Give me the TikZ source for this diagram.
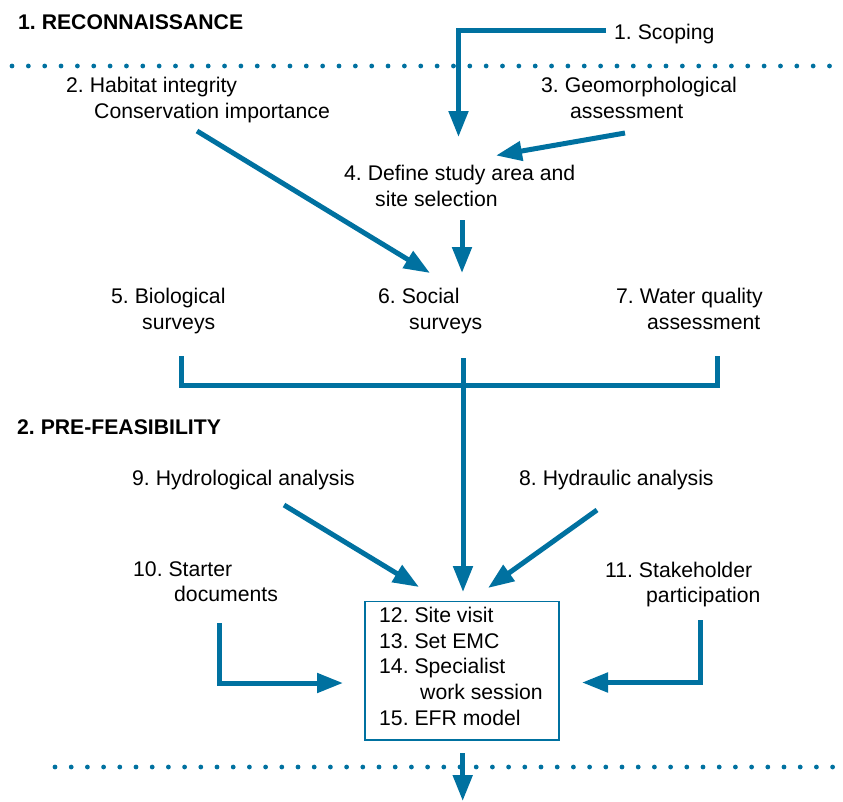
\documentclass[tikz,border=0pt]{standalone}
\usepackage{fontspec}
\setmainfont{Liberation Sans}
\usetikzlibrary{arrows.meta}
\definecolor{flowblue}{RGB}{0,113,160}
\frenchspacing
\tikzset{
  lbl/.style={font=\fontsize{21.2}{25.8}\selectfont, inner sep=0pt, anchor=north west, align=left, text=black},
  hdr/.style={font=\fontsize{21.2}{25.8}\selectfont\bfseries, inner sep=0pt, anchor=north west, text=black},
  conn/.style={draw=flowblue, line width=5pt},
  arr/.style={conn, -{Triangle[length=26pt,width=19pt]}},
  stagebox/.style={draw=flowblue, line width=1.5pt, minimum width=194pt, minimum height=138.3pt, inner sep=0pt},
  dot/.style={fill=flowblue}
}
\begin{document}
\begin{tikzpicture}[x=1pt,y=-1pt]
\useasboundingbox (0,0) rectangle (843,801);

% dotted separators
\foreach \i in {0,...,50} \fill[dot] (12+16.35*\i,66) circle (2.4pt);
\foreach \i in {0,...,48} \fill[dot] (55+16.2*\i,767) circle (2.4pt);

% headers
\node[hdr] (rec) at (18,14.3) {1. RECONNAISSANCE};
\node[hdr] (pre) at (17,419.8) {2. PRE-FEASIBILITY};

% labels
\node[lbl] (scope) at (614,23.8) {1. Scoping};
\node[lbl] (hab) at (66,77.3) {2. Habitat integrity\\\hspace*{28pt}Conservation importance};
\node[lbl] (geo) at (541,77.3) {3. Geomorphological\\\hspace*{29pt}assessment};
\node[lbl] (def) at (344,164.8) {4. Define study area and\\\hspace*{31pt}site selection};
\node[lbl] (bio) at (111,287.8) {5. Biological\\\hspace*{31pt}surveys};
\node[lbl] (soc) at (378,287.8) {6. Social\\\hspace*{31pt}surveys};
\node[lbl] (wq) at (616,287.8) {7. Water quality\\\hspace*{31pt}assessment};
\node[lbl] (hyd) at (132,469.8) {9. Hydrological analysis};
\node[lbl] (hydr) at (519,469.8) {8. Hydraulic analysis};
\node[lbl,font=\fontsize{21.2}{25}\selectfont] (start) at (133,561.8) {10. Starter\\\hspace*{41pt}documents};
\node[lbl,font=\fontsize{21.2}{25}\selectfont] (stake) at (605,561.8) {11. Stakeholder\\\hspace*{41pt}participation};

% central box
\node[stagebox] (box) at (462,670.85) {};
\node[lbl] (boxtxt) at (379,606.8) {12. Site visit\\13. Set EMC\\14. Specialist\\\hspace*{41pt}work session\\15. EFR model};

% connector end points
\coordinate (sc0) at (606,30.5);
\coordinate (sc1) at (458.5,30.5);
\coordinate (sc2) at (458.5,137);
\coordinate (ge0) at (625,133);
\coordinate (ge1) at (496,155.5);
\coordinate (ha0) at (197,131);
\coordinate (ha1) at (430,273);
\coordinate (de0) at (462,220);
\coordinate (de1) at (462,273);
\coordinate (bl) at (181.5,356);
\coordinate (blc) at (181.5,385);
\coordinate (br) at (717.5,356);
\coordinate (brc) at (717.5,385);
\coordinate (mc0) at (463,358);
\coordinate (mc1) at (463,592);
\coordinate (hy0) at (284,505);
\coordinate (hy1) at (419,587);
\coordinate (hr0) at (597,510);
\coordinate (hr1) at (488,588);
\coordinate (st0) at (219,623);
\coordinate (st1) at (219,683);
\coordinate (st2) at (343,683);
\coordinate (sk0) at (700.5,620);
\coordinate (sk1) at (700.5,682.5);
\coordinate (sk2) at (582,682.5);
\coordinate (bo0) at (462.7,753);
\coordinate (bo1) at (462.7,801);

% connectors
\draw[arr] (sc0) -- (sc1) -- (sc2);
\draw[arr] (ge0) -- (ge1);
\draw[arr] (ha0) -- (ha1);
\draw[arr] (de0) -- (de1);
\draw[conn] (bl) -- (blc) -- (brc) -- (br);
\draw[arr] (mc0) -- (mc1);
\draw[arr] (hy0) -- (hy1);
\draw[arr] (hr0) -- (hr1);
\draw[arr] (st0) -- (st1) -- (st2);
\draw[arr] (sk0) -- (sk1) -- (sk2);
\draw[arr] (bo0) -- (bo1);
\end{tikzpicture}
\end{document}
